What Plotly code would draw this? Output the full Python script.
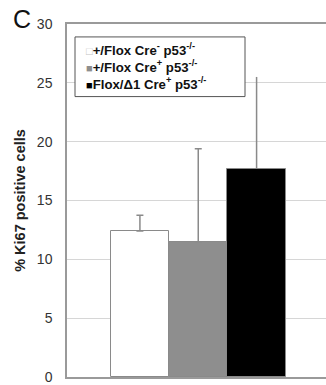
import plotly.graph_objects as go

# Ki67 proliferation index per genotype
groups = ["+/Flox Cre- p53-/-", "+/Flox Cre+ p53-/-", "Flox/Δ1 Cre+ p53-/-"]
legend_labels = [
    "+/Flox Cre<sup>-</sup> p53<sup>-/-</sup>",
    "+/Flox Cre<sup>+</sup> p53<sup>-/-</sup>",
    "Flox/Δ1 Cre<sup>+</sup> p53<sup>-/-</sup>",
]
mean_pct = [12.4, 11.5, 17.7]
sd_pct = [1.35, 7.9, 7.8]
bar_colors = ["#ffffff", "#8e8e8e", "#000000"]
swatch_colors = ["#c4c4c4", "#8e8e8e", "#000000"]
swatch_glyphs = ["□", "■", "■"]
y_ticks = [0, 5, 10, 15, 20, 25, 30]
y_max = 30

fig = go.Figure()
for i, name in enumerate(groups):
    fig.add_trace(go.Bar(
        x=[i], y=[mean_pct[i]], name=name, width=1,
        marker=dict(color=bar_colors[i], line=dict(color="#8a8a8a", width=1)),
        error_y=dict(type="data", symmetric=False, array=[sd_pct[i]], arrayminus=[0],
                     color="#8a8a8a", thickness=1.5, width=3.5 if i < 2 else 0),
        showlegend=False,
    ))

fig.update_layout(
    width=326, height=385,
    margin=dict(l=67, r=0, t=24, b=6),
    paper_bgcolor="white", plot_bgcolor="white",
    font=dict(family="Liberation Sans, Arial, sans-serif", color="#222"),
    bargap=0,
    # x axis line mirrored to the top to close the frame
    xaxis=dict(range=[-1.25, 3.19], showticklabels=False, showgrid=False, zeroline=False,
               showline=True, mirror=True, linecolor="#9a9a9a", linewidth=1.5, ticks=""),
    yaxis=dict(range=[0, y_max], tickvals=y_ticks, showgrid=True, gridcolor="#d6d6d6",
               gridwidth=1, zeroline=False, showline=True, linecolor="#9a9a9a", linewidth=1.5,
               ticks="", ticklabelstandoff=10, ticklabeloverflow="allow",
               tickfont=dict(size=14, color="#333"),
               title=dict(text="<b>% Ki67 positive cells</b>", font=dict(size=14.5, color="#222"),
                          standoff=8)),
)

# legend box and entries
fig.add_shape(type="rect", xref="paper", yref="paper",
              x0=(75 - 67) / 259, x1=(245 - 67) / 259,
              y0=(379 - 97) / 355, y1=(379 - 37) / 355,
              line=dict(color="#555", width=1), fillcolor="white", layer="above")
legend_lines = [
    f"<span style='color:{swatch_colors[i]};font-size:11px'>{swatch_glyphs[i]}</span><b>{lab}</b>"
    for i, lab in enumerate(legend_labels)
]
fig.add_annotation(
    xref="paper", yref="paper", x=(84 - 67) / 259, y=(379 - 66.5) / 355,
    xanchor="left", yanchor="middle", align="left", showarrow=False,
    text="<br>".join(legend_lines),
    font=dict(size=13.2, color="#111"),
)

# panel letter
fig.add_annotation(xref="paper", yref="paper", x=-56 / 259, y=(379 - 3) / 355,
                   xanchor="left", yanchor="top", showarrow=False, text="C",
                   font=dict(size=25, color="#111"))

fig.write_html("out.html")
